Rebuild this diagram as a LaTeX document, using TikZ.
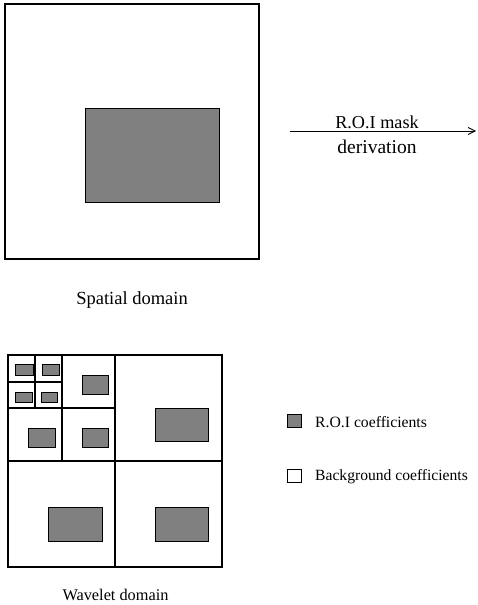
\documentclass[tikz,border=0pt]{standalone}
\usepackage{fontspec}
\setmainfont{Liberation Serif}
\usetikzlibrary{arrows.meta}
\tikzset{
  frame/.style={draw=black, line width=1.1pt},
  roi/.style={draw=black, line width=0.9pt, fill=black!50},
  lbl/.style={inner sep=0pt},
}
\newcommand{\fsz}[1]{\fontsize{#1}{#1}\selectfont}
\begin{document}
\begin{tikzpicture}[x=1pt,y=-1pt]
\useasboundingbox (0,0) rectangle (477,605);
% spatial domain
\draw[frame] (5,4) rectangle (259,259);
\draw[roi] (85,108) rectangle (219,202);
\node[lbl, anchor=base, font=\fsz{18.5}] (sp) at (132,304) {Spatial domain};
% arrow
\coordinate (as) at (290,131);
\coordinate (ae) at (476,131);
\draw[line width=0.8pt, -{Straight Barb[length=7pt,width=7pt]}] (as) -- (ae);
\node[lbl, anchor=base, font=\fsz{18.2}] (t1) at (377,128.5) {R.O.I mask};
\node[lbl, anchor=base, font=\fsz{19.5}] (t2) at (377,153) {derivation};
% wavelet domain
\draw[frame] (8,355) rectangle (222,567);
\draw[frame] (115,355) -- (115,567);
\draw[frame] (8,461) -- (222,461);
\draw[frame] (62,355) -- (62,461);
\draw[frame] (8,408) -- (115,408);
\draw[frame] (35,355) -- (35,408);
\draw[frame] (8,382) -- (62,382);
% level 1
\draw[roi] (155,408) rectangle (208,441);
\draw[roi] (48,507) rectangle (102,541);
\draw[roi] (155,507) rectangle (208,541);
% level 2
\draw[roi] (82,375) rectangle (108,394);
\draw[roi] (28,428) rectangle (55,447);
\draw[roi] (82,428) rectangle (108,447);
% level 3
\draw[roi] (15,364) rectangle (33,375);
\draw[roi] (42,364) rectangle (59,375);
\draw[roi] (15,392) rectangle (32,402);
\draw[roi] (41,392) rectangle (57,402);
\node[lbl, anchor=base, font=\fsz{16.3}] (wd) at (115.5,600) {Wavelet domain};
% legend
\draw[roi] (287,414) rectangle (301,427);
\node[lbl, anchor=base west, font=\fsz{15.7}] (l1) at (315,427) {R.O.I coefficients};
\draw[line width=0.9pt] (287,469) rectangle (301,482);
\node[lbl, anchor=base west, font=\fsz{15.6}] (l2) at (315,480) {Background coefficients};
\end{tikzpicture}
\end{document}
